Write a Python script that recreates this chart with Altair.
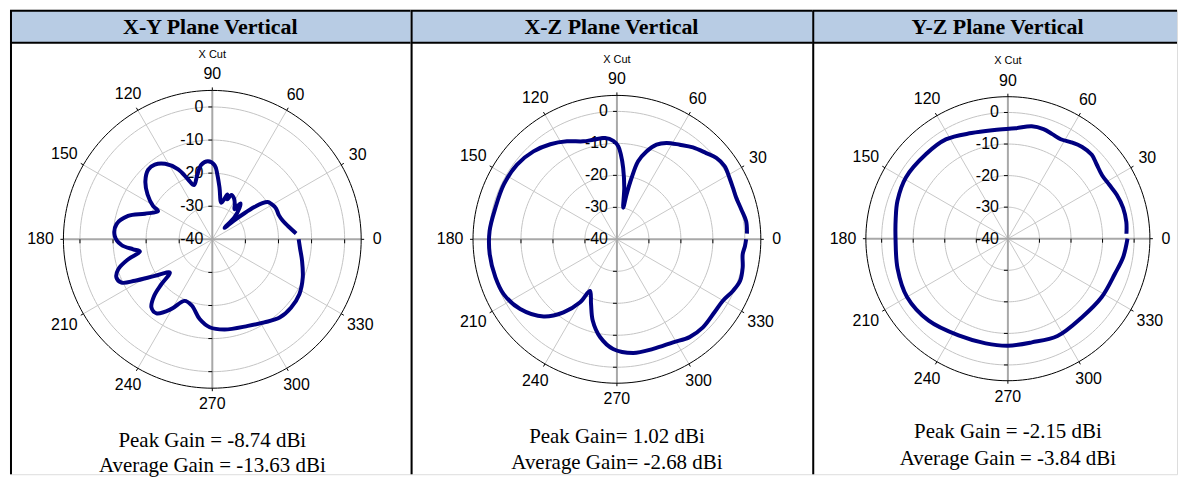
import altair as alt
import pandas as pd

# ---------------- data ----------------
TITLES = ["X-Y Plane Vertical", "X-Z Plane Vertical", "Y-Z Plane Vertical"]
PEAK = ["Peak Gain = -8.74 dBi", "Peak Gain= 1.02 dBi", "Peak Gain = -2.15 dBi"]
AVG = ["Average Gain = -13.63 dBi", "Average Gain= -2.68 dBi", "Average Gain = -3.84 dBi"]
CUT_LABEL = "X Cut"

XY_ANG = [4, 10, 15, 20, 26, 31, 34, 36, 37.5, 39, 41, 43, 45, 49, 51.8, 53.5, 57, 62,
          66.8, 69.4, 71.5, 76, 82, 85.6, 88.2, 93.2, 98.3, 103, 108.6, 112, 116, 122,
          127.6, 132.6, 139, 145.3, 150.7, 152.5, 159.2, 164.5, 171, 178, 183.6, 187.2,
          189.6, 193.3, 197.6, 201.8, 205.5, 208.2, 212.5, 218, 221.4, 224.2, 228.2, 233,
          239.6, 245.8, 253, 261, 268.3, 277.8, 292.4, 302, 310.7, 319, 327.8, 337,
          346.5, 354.6, 360]
XY_DB = [-14.6, -16.8, -18.0, -18.6, -18.6, -19.2, -19.8, -21.5, -24.0, -27.5, -31.5, -34.9,
         -30.5, -27.5, -26.2, -28.7, -27.5, -26.0, -25.4, -27.1, -25.7, -28.6, -24.3, -20.3,
         -17.6, -16.4, -17.2, -19.9, -22.7, -20.5, -16.5, -13.1, -11.5, -11.4, -13.2, -16.2,
         -19.5, -21.5, -18.2, -13.6, -10.7, -10.5, -12.5, -15.9, -17.8, -13.9, -10.2, -8.8,
         -9.6, -13.5, -19.4, -23.7, -19.5, -15.5, -12.4, -12.0, -15.6, -19.6, -19.0, -15.6,
         -13.4, -12.5, -11.7, -10.4, -8.8, -8.5, -8.9, -10.3, -12.1, -13.4, -13.9]

XZ_ANG = [2.5, 8, 13.5, 19.2, 24, 28.6, 34.2, 39.3, 44, 50.4, 56.4, 62.8, 67.3, 71.4, 74.8,
          76.6, 77.9, 78.7, 81.9, 85, 87.3, 89.2, 92.1, 96.7, 103.3, 109, 117, 125, 133.5,
          143.2, 154, 165.4, 176.3, 186.7, 197.4, 205.8, 215.8, 226.5, 233.8, 239.7, 242.4,
          248.2, 253.4, 260.2, 268, 278.2, 288.3, 298.6, 306.6, 314.3, 323.2, 329.9, 336,
          341.4, 347.4, 353.2, 357, 360]
XZ_DB = [0.7, 0.8, 0.0, -0.5, -0.3, 0.1, 0.7, 0.15, -1.2, -2.7, -4.5, -6.1, -7.9, -11.0,
         -14.7, -20.3, -25.7, -29.9, -23.7, -17.6, -13.5, -10.9, -9.2, -8.1, -8.0, -7.6,
         -5.6, -3.7, -2.1, -1.0, -0.7, -0.75, -0.1, 0.05, -0.2, -0.65, -2.7, -6.7, -11.7,
         -17.2, -21.8, -18.2, -13.5, -9.0, -5.7, -4.1, -3.9, -3.3, -1.9, -1.5, -1.9, -1.7,
         -0.3, 0.65, 0.3, -0.4, 0.1, 0.4]

YZ_ANG = [2.4, 8, 15, 22, 28, 34, 40, 45, 51, 57, 62, 67, 72, 78, 86, 97, 109, 122, 134,
          149, 161, 170, 180, 195, 210, 226, 243, 258, 270, 283, 297, 313, 328, 342, 351, 360]
YZ_DB = [-2.4, -2.1, -2.2, -2.8, -3.6, -4.0, -3.3, -2.4, -2.6, -3.5, -4.3, -4.0, -3.5, -3.6,
         -4.9, -5.3, -4.6, -2.9, -2.7, -2.3, -3.0, -3.9, -4.4, -3.8, -3.1, -3.9, -5.6, -6.1,
         -6.1, -6.3, -5.4, -5.8, -5.0, -4.3, -3.0, -2.1]

ANGLE_TICKS = list(range(0, 360, 30))
RING_DB = [-30, -20, -10, 0]
RADIAL_LABELS = [0, -10, -20, -30, -40]
DB_MIN = -40
DB_MAX = 5

# ---------------- layout / style ----------------
H = 466
SANS = "Liberation Sans"
SERIF = "Liberation Serif"
CURVE = "#000080"
HEADER = "#b8cce4"
one = pd.DataFrame({"k": [0]})


def panel(ang, db, title, peak, avg, W, cx, cy, R, peak_y, avg_y, last=False):
    span = DB_MAX - DB_MIN
    k = R / span
    xs = alt.Scale(domain=[-cx / k, (W - cx) / k], nice=False, zero=False)
    ys = alt.Scale(domain=[-(H - cy) / k, cy / k], nice=False, zero=False)

    def X(f):
        return alt.X(f, type="quantitative", scale=xs, axis=None)

    def Y(f):
        return alt.Y(f, type="quantitative", scale=ys, axis=None)

    layers = []
    layers.append(alt.Chart(one).mark_rect(color=HEADER).encode(
        x=alt.value(0), x2=alt.value(W), y=alt.value(1), y2=alt.value(33)))

    # grid rings
    for lv in RING_DB:
        r = lv - DB_MIN
        layers.append(
            alt.Chart(alt.sequence(0, 362, 2, as_="a"))
            .transform_calculate(x=f"{r}*cos(datum.a*PI/180)", y=f"{r}*sin(datum.a*PI/180)")
            .mark_line(color="#c4c4c4", strokeWidth=1)
            .encode(x=X("x"), y=Y("y"), order=alt.Order("a:Q"))
        )
    spokes = pd.DataFrame({"a": ANGLE_TICKS})
    base_sp = alt.Chart(spokes).transform_calculate(
        x0="0", y0="0",
        x1=f"{span}*cos(datum.a*PI/180)", y1=f"{span}*sin(datum.a*PI/180)",
        x2o=f"({span}+3/{k})*cos(datum.a*PI/180)", y2o=f"({span}+3/{k})*sin(datum.a*PI/180)",
        ox=f"{span}*cos(datum.a*PI/180)", oy=f"{span}*sin(datum.a*PI/180)",
    )
    layers.append(base_sp.transform_filter("datum.a % 90 != 0").mark_rule(
        color="#c8c8c8", strokeWidth=1).encode(x=X("x0"), y=Y("y0"), x2="x1", y2="y1"))
    layers.append(base_sp.transform_filter("datum.a % 90 == 0").mark_rule(
        color="#a8a8a8", strokeWidth=2).encode(x=X("x0"), y=Y("y0"), x2="x1", y2="y1"))
    layers.append(base_sp.mark_rule(color="black", strokeWidth=1).encode(
        x=X("ox"), y=Y("oy"), x2="x2o", y2="y2o"))

    # small ticks on the axes
    tick_rows = pd.DataFrame({"v": [s * (lv - DB_MIN) for s in (1, -1) for lv in RING_DB]})
    layers.append(alt.Chart(tick_rows).transform_calculate(
        x0=f"-4/{k}", x1="0", y0="datum.v").mark_rule(color="black", strokeWidth=1).encode(
        x=X("x0"), x2="x1", y=Y("y0")))
    layers.append(alt.Chart(tick_rows).transform_calculate(
        y0=f"-4/{k}", y1="0", x0="datum.v").mark_rule(color="black", strokeWidth=1).encode(
        y=Y("y0"), y2="y1", x=X("x0")))

    # outer ring
    layers.append(
        alt.Chart(alt.sequence(0, 362, 2, as_="a"))
        .transform_calculate(x=f"{span}*cos(datum.a*PI/180)", y=f"{span}*sin(datum.a*PI/180)")
        .mark_line(color="black", strokeWidth=1)
        .encode(x=X("x"), y=Y("y"), order=alt.Order("a:Q"))
    )

    # radial labels
    layers.append(alt.Chart(pd.DataFrame({"v": RADIAL_LABELS})).transform_calculate(
        t="'' + datum.v", x="0", y=f"datum.v - ({DB_MIN})").mark_text(
        align="right", baseline="middle", dx=-9, font=SANS, fontSize=16, color="black").encode(
        x=X("x"), y=Y("y"), text="t:N"))

    # angle labels
    layers.append(alt.Chart(spokes).transform_calculate(
        t="'' + datum.a",
        rl=f"{span} + (16 + 3.5*(length('' + datum.a)-1)*abs(cos(datum.a*PI/180)))/{k}",
    ).transform_calculate(
        x="datum.rl*cos(datum.a*PI/180)", y="datum.rl*sin(datum.a*PI/180)"
    ).mark_text(align="center", baseline="middle", font=SANS, fontSize=16, color="black").encode(
        x=X("x"), y=Y("y"), text="t:N"))

    layers.append(alt.Chart(pd.DataFrame({"t": [CUT_LABEL]})).transform_calculate(
        x="0", y=f"{span} + 35.5/{k}").mark_text(
        baseline="middle", font=SANS, fontSize=11, color="black").encode(
        x=X("x"), y=Y("y"), text="t:N"))

    # pattern curve
    df = pd.DataFrame({"ang": ang, "db": db})
    layers.append(alt.Chart(df).transform_calculate(
        r=f"datum.db - ({DB_MIN})").transform_calculate(
        x="datum.r*cos(datum.ang*PI/180)", y="datum.r*sin(datum.ang*PI/180)").mark_line(
        color=CURVE, strokeWidth=4, interpolate="catmull-rom").encode(
        x=X("x"), y=Y("y"), order=alt.Order("ang:Q")))

    # texts
    tx = (W + 6) / 2 if last else W / 2
    layers.append(alt.Chart(pd.DataFrame({"t": [title]})).mark_text(
        font=SERIF, fontSize=22, fontWeight="bold", baseline="middle", color="black").encode(
        x=alt.value(tx), y=alt.value(17), text="t:N"))
    layers.append(alt.Chart(pd.DataFrame({"t": [peak]})).mark_text(
        font=SERIF, fontSize=21, baseline="middle", color="black").encode(
        x=alt.value(cx), y=alt.value(peak_y), text="t:N"))
    layers.append(alt.Chart(pd.DataFrame({"t": [avg]})).mark_text(
        font=SERIF, fontSize=21, baseline="middle", color="black").encode(
        x=alt.value(cx), y=alt.value(avg_y), text="t:N"))

    # table borders
    layers.append(alt.Chart(one).mark_rule(color="black", strokeWidth=2).encode(
        x=alt.value(0), x2=alt.value(W), y=alt.value(1)))
    layers.append(alt.Chart(one).mark_rule(color="black", strokeWidth=2).encode(
        x=alt.value(0), x2=alt.value(W), y=alt.value(33)))
    layers.append(alt.Chart(one).mark_rule(color="black", strokeWidth=2).encode(
        x=alt.value(1), y=alt.value(1), y2=alt.value(H)))

    return alt.layer(*layers).properties(width=W, height=H)


p1 = panel(XY_ANG, XY_DB, TITLES[0], PEAK[0], AVG[0], 402, 203, 230.3, 149.4, 433, 458)
p2 = panel(XZ_ANG, XZ_DB, TITLES[1], PEAK[1], AVG[1], 403, 207, 230.3, 144.4, 429, 455)
p3 = panel(YZ_ANG, YZ_DB, TITLES[2], PEAK[2], AVG[2], 366, 196.3, 229.7, 142.5, 424, 451,
           last=True)

chart = (
    alt.hconcat(p1, p2, p3, spacing=0, bounds="flush")
    .properties(padding=0)
    .configure_view(stroke=None)
    .configure(background="white")
)

chart.save("out.html", embed_options={"renderer": "svg", "actions": False})
